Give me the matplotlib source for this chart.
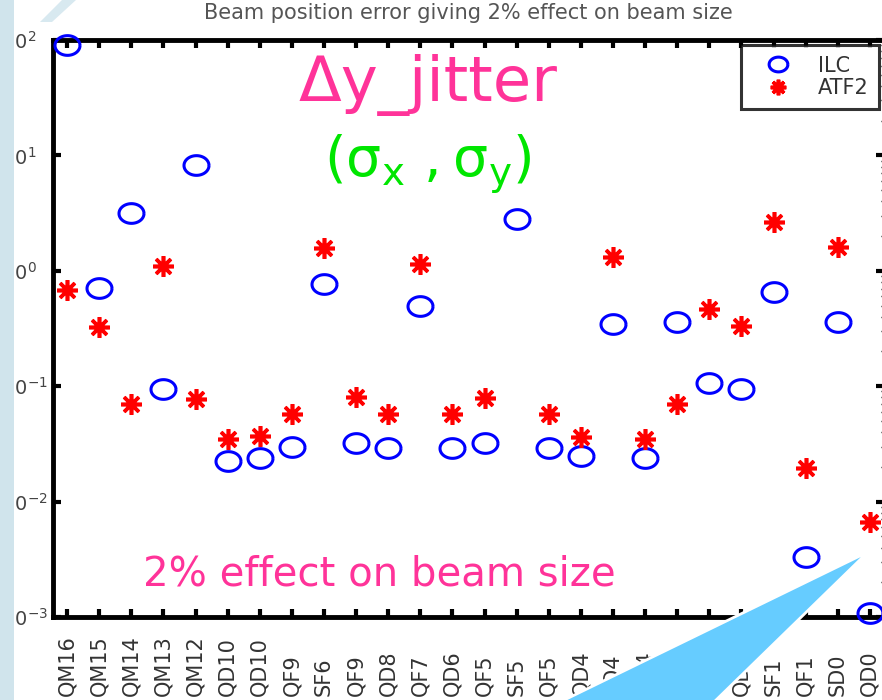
import numpy as np
import matplotlib
matplotlib.use("Agg")
import matplotlib.pyplot as plt
from matplotlib.patches import Polygon

# magnet names along the final focus line
magnets = [
    "QM16", "QM15", "QM14", "QM13", "QM12", "QD10", "QD10", "QF9", "SF6",
    "QF9", "QD8", "QF7", "QD6", "QF5", "SF5", "QF5", "QD4", "SD4", "QD4",
    "QF3", "QD2", "QD2", "SF1", "QF1", "SD0", "QD0",
]

# tolerance
ilc = [90, 0.71, 3.2, 0.094, 8.2, 0.0227, 0.0237, 0.0295, 0.77, 0.0319,
       0.0289, 0.50, 0.029, 0.032, 2.83, 0.029, 0.025, 0.346, 0.024, 0.36,
       0.106, 0.094, 0.66, 0.0033, 0.36, 0.00108]
atf2 = [0.68, 0.326, 0.070, 1.1, 0.077, 0.0346, 0.0367, 0.057, 1.58, 0.080,
        0.057, 1.15, 0.057, 0.079, np.nan, 0.058, 0.036, 1.32, 0.0346, 0.070,
        0.47, 0.333, 2.67, 0.0194, 1.62, 0.0066]

W, H = 882, 700
fig = plt.figure(figsize=(W / 100, H / 100), dpi=100)
ax = fig.add_axes([53 / W, 1 - 617 / H, (884 - 53) / W, (617 - 40) / H])

x = np.arange(1, len(magnets) + 1)

# slightly wide ellipse, like the stretched MATLAB circles
t = np.linspace(0, 2 * np.pi, 60)
ellipse = np.column_stack([1.27 * np.cos(t), np.sin(t)])

ax.plot(x, ilc, ls="none", marker=ellipse, ms=18, mfc="none", mec="#0000ff",
        mew=2.2, label="ILC", clip_on=False, zorder=3)
ax.plot(x, atf2, ls="none", marker=(8, 2, 0), ms=15, mec="#ff0000",
        mfc="#ff0000", mew=2.6, label="ATF2", clip_on=False, zorder=3)

ax.set_yscale("log")
ax.set_ylim(1e-3, 1e2)
ax.set_xlim(0.56, 26.44)
ax.set_yticks([1e-3, 1e-2, 1e-1, 1e0, 1e1, 1e2])

ax.set_xticks(x)
ax.set_xticklabels(magnets, fontsize=15, color="#333333")
plt.setp(ax.get_xticklabels(), rotation=90, rotation_mode="anchor",
         ha="left", va="center")
# labels start at the slide edge, so the leading "1" sits under the border
plt.setp(ax.get_yticklabels(), fontsize=14, color="#444444", ha="left")

ax.tick_params(axis="both", which="major", direction="in", length=6,
               width=3, top=True, right=True)
ax.tick_params(axis="x", pad=57)
ax.tick_params(axis="y", pad=37)
ax.tick_params(axis="y", which="minor", direction="in", left=False,
               right=True, length=2.5, width=1)
for sp in ax.spines.values():
    sp.set_linewidth(3.5)

ax.set_title("Beam position error giving 2% effect on beam size",
             fontsize=15, color="#555555", pad=15)

leg = ax.legend(loc="upper right", fontsize=15, markerscale=0.75,
                borderaxespad=0.25, handlelength=2.6, handletextpad=0.6,
                fancybox=False, borderpad=0.5, labelspacing=0.12)
leg.get_frame().set_edgecolor("black")
leg.get_frame().set_linewidth(2.2)
for txt in leg.get_texts():
    txt.set_color("#333333")

# annotations on the slide
ax.text(0.451, 0.895, "\u0394y_jitter", transform=ax.transAxes,
        fontsize=45, color="#ff3399", ha="center", va="baseline")
ax.text(0.451, 0.785, r"$(\mathrm{\sigma}_{\mathrm{x}}\ ,\mathrm{\sigma}_{\mathrm{y}})$",
        transform=ax.transAxes, fontsize=40, color="#00e600",
        ha="center", va="center")
ax.text(0.108, 0.055, "2% effect on beam size", transform=ax.transAxes,
        fontsize=29, color="#ff3399", ha="left", va="baseline")

# slide decoration: light blue border on the left
def px(pts):
    return [(a / W, 1 - b / H) for a, b in pts]

edge = Polygon(px([(0, 0), (14, 0), (14, 700), (0, 700)]),
               closed=True, transform=fig.transFigure, facecolor="#d0e4ec",
               edgecolor="none", zorder=10)
fig.add_artist(edge)
swoosh = Polygon(px([(62, 0), (76, 0), (52, 22), (40, 22)]),
                 closed=True, transform=fig.transFigure, facecolor="#d8e9f0",
                 edgecolor="none", zorder=10)
fig.add_artist(swoosh)

# callout wedge pointing at QD0
wedge = Polygon(px([(868, 552), (556, 704), (712, 704)]), closed=True,
                transform=fig.transFigure, facecolor="#66ccff",
                edgecolor="white", linewidth=2, zorder=11)
fig.add_artist(wedge)

fig.savefig("out.png", dpi=100)
